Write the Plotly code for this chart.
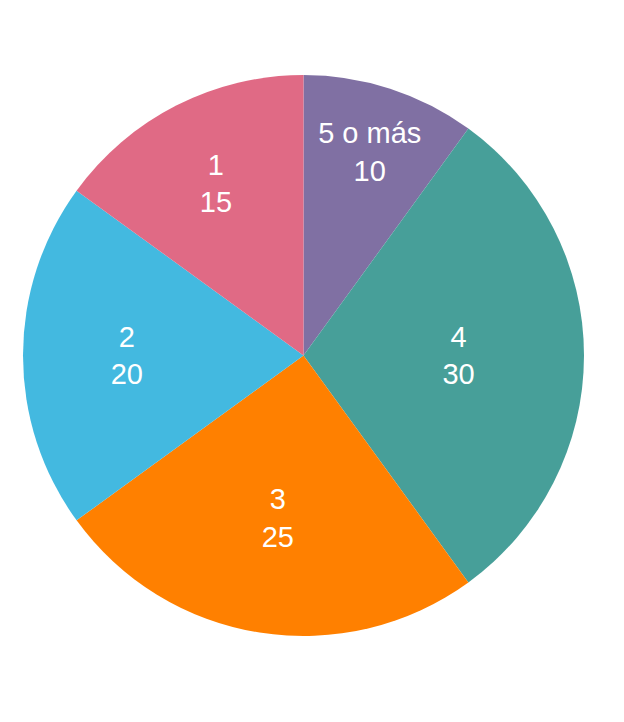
import plotly.graph_objects as go

# slices, clockwise from 12 o'clock
labels = ['5 o más', '4', '3', '2', '1']
values = [10, 30, 25, 20, 15]
colors = ['#8070a3', '#479f99', '#ff8000', '#43b9e0', '#e06a85']

fig = go.Figure()
fig.add_trace(go.Pie(
    labels=labels,
    values=values,
    sort=False,
    direction='clockwise',
    rotation=0,
    marker=dict(colors=colors, line=dict(width=0)),
    textinfo='label+value',
    textposition='inside',
    insidetextorientation='auto',
    textfont=dict(family='Liberation Sans, Arial, sans-serif', size=29, color='white'),
    hoverinfo='label+value',
    showlegend=False,
))

fig.update_layout(
    width=624, height=722,
    margin=dict(l=15, r=48, t=67, b=94),
    paper_bgcolor='white',
    plot_bgcolor='white',
    uniformtext=dict(minsize=29, mode='show'),
)

fig.write_html('out.html')
